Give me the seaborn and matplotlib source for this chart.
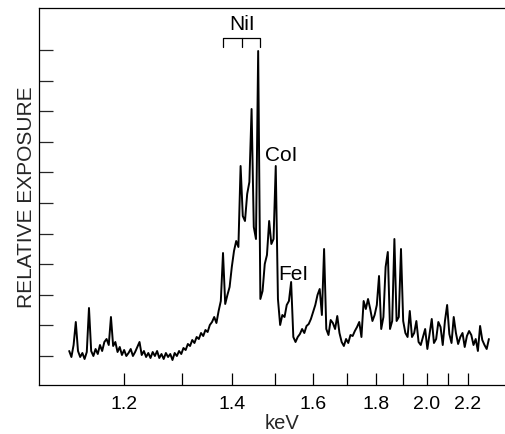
import numpy as np
import pandas as pd
import matplotlib
matplotlib.use("Agg")
import matplotlib.pyplot as plt
from matplotlib.ticker import NullLocator
import seaborn as sns

HC = 12.398  # keV * Angstrom

# densitometer trace, sampled on a uniform wavelength grid (Angstrom)
wavelength_A = [
    11.08, 11.05, 11.02, 10.99, 10.96, 10.93, 10.90, 10.87, 10.84, 10.81,
    10.78, 10.75, 10.72, 10.69, 10.66, 10.63, 10.60, 10.57, 10.54, 10.51,
    10.48, 10.45, 10.42, 10.39, 10.36, 10.33, 10.30, 10.27, 10.24, 10.21,
    10.18, 10.15, 10.12, 10.09, 10.06, 10.03, 10.00, 9.97, 9.94, 9.91,
    9.88, 9.85, 9.82, 9.79, 9.76, 9.73, 9.70, 9.67, 9.64, 9.61,
    9.58, 9.55, 9.52, 9.49, 9.46, 9.43, 9.40, 9.37, 9.34, 9.31,
    9.28, 9.25, 9.22, 9.19, 9.16, 9.13, 9.10, 9.07, 9.04, 9.01,
    8.98, 8.95, 8.92, 8.89, 8.86, 8.83, 8.80, 8.77, 8.74, 8.71,
    8.68, 8.65, 8.62, 8.59, 8.56, 8.53, 8.50, 8.47, 8.44, 8.41,
    8.38, 8.35, 8.32, 8.29, 8.26, 8.23, 8.20, 8.17, 8.14, 8.11,
    8.08, 8.05, 8.02, 7.99, 7.96, 7.93, 7.90, 7.87, 7.84, 7.81,
    7.78, 7.75, 7.72, 7.69, 7.66, 7.63, 7.60, 7.57, 7.54, 7.51,
    7.48, 7.45, 7.42, 7.39, 7.36, 7.33, 7.30, 7.27, 7.24, 7.21,
    7.18, 7.15, 7.12, 7.09, 7.06, 7.03, 7.00, 6.97, 6.94, 6.91,
    6.88, 6.85, 6.82, 6.79, 6.76, 6.73, 6.70, 6.67, 6.64, 6.61,
    6.58, 6.55, 6.52, 6.49, 6.46, 6.43, 6.40, 6.37, 6.34, 6.31,
    6.28, 6.25, 6.22, 6.19, 6.16, 6.13, 6.10, 6.07, 6.04, 6.01,
    5.98, 5.95, 5.92, 5.89, 5.86, 5.83, 5.80, 5.77, 5.74, 5.71,
    5.68, 5.65, 5.62, 5.59, 5.56, 5.53, 5.50, 5.47, 5.44, 5.41,
    5.38, 5.35,
]

relative_exposure = [
    5, -1, 11, 34, 5, -1, 3, -3, 4, 48,
    5, 0, 7, 2, 11, 5, 14, 17, 11, 39,
    10, 14, 4, 9, 1, 6, 0, 3, 7, 0,
    4, 9, 14, 1, 5, -1, 3, -2, 4, 0,
    5, -2, 2, -3, 3, -1, 2, -4, 3, 0,
    5, 2, 8, 6, 12, 10, 16, 13, 19, 17,
    23, 20, 26, 24, 31, 34, 39, 33, 45, 55,
    103, 52, 61, 69, 89, 105, 115, 109, 190, 140,
    135, 162, 174, 247, 129, 117, 305, 57, 65, 92,
    101, 135, 112, 117, 190, 57, 31, 41, 39, 51,
    55, 74, 19, 14, 19, 22, 27, 23, 30, 32,
    37, 44, 51, 61, 67, 41, 107, 27, 21, 36,
    33, 27, 40, 23, 14, 10, 17, 13, 21, 20,
    25, 29, 34, 19, 55, 47, 57, 47, 35, 41,
    51, 80, 27, 39, 89, 104, 27, 35, 117, 35,
    39, 107, 35, 23, 19, 45, 19, 23, 35, 14,
    11, 19, 27, 7, 22, 37, 13, 17, 34, 29,
    11, 35, 51, 22, 13, 39, 23, 12, 19, 23,
    9, 20, 25, 21, 11, 17, 5, 30, 16, 11,
    7, 17,
]

x_ticks_kev = [1.2, 1.3, 1.4, 1.5, 1.6, 1.7, 1.8, 1.9, 2.0, 2.1, 2.2]
x_tick_labels = ["1.2", "", "1.4", "", "1.6", "", "1.8", "", "2.0", "", "2.2"]
y_tick_values = [0, 30.6, 61.2, 91.8, 122.4, 153.0, 183.6, 214.2, 244.8, 275.4, 306.0]

ni_lines_kev = [1.381, 1.421, 1.462]
bracket_level = 318
bracket_drop = 9

labels_text = ["NiI", "CoI", "FeI"]
labels_kev = [1.4216, 1.4747, 1.5066]
labels_level = [332, 201, 82]
labels_ha = ["center", "left", "left"]

sns.set_style("ticks")
plt.rcParams["font.family"] = ["Liberation Sans Narrow", "Liberation Sans", "DejaVu Sans"]

df = pd.DataFrame({
    "energy": HC / np.array(wavelength_A),
    "exposure": relative_exposure,
})

fig = plt.figure(figsize=(5.05, 4.35), dpi=100)
ax = fig.add_axes([39 / 505, 1 - 386 / 435, 466 / 505, 377 / 435])

sns.lineplot(data=df, x="energy", y="exposure", color="black", linewidth=1.4,
             estimator=None, sort=False, ax=ax)

xlim = (1.0788, 2.4168)
ax.set_xlim(*xlim)
ax.set_xscale("function", functions=(lambda e: -1.0 / e, lambda u: -1.0 / u))
ax.set_xlim(*xlim)
ax.set_ylim(-29, 348)

ax.set_xticks(x_ticks_kev)
ax.set_xticklabels(x_tick_labels)
ax.xaxis.set_minor_locator(NullLocator())
ax.set_yticks(y_tick_values)
ax.set_yticklabels([])
ax.yaxis.set_minor_locator(NullLocator())

ax.tick_params(axis="x", direction="in", length=9, width=0.9, pad=7,
               labelsize=14, colors="black")
ax.tick_params(axis="y", direction="in", length=10, width=0.9, labelleft=False)

for side in ["left", "bottom", "top"]:
    ax.spines[side].set_visible(True)
    ax.spines[side].set_linewidth(0.9)
    ax.spines[side].set_color("black")
ax.spines["right"].set_visible(False)

ax.set_xlabel("keV", fontsize=14.5)
ax.xaxis.set_label_coords(0.5215, -0.075)
ax.set_ylabel("RELATIVE EXPOSURE", fontsize=15)
ax.yaxis.set_label_coords(-0.006, 0.5)

# NiI bracket
ax.plot([ni_lines_kev[0], ni_lines_kev[0], ni_lines_kev[2], ni_lines_kev[2]],
        [bracket_level - bracket_drop, bracket_level, bracket_level,
         bracket_level - bracket_drop], color="black", linewidth=0.9)
ax.plot([ni_lines_kev[1], ni_lines_kev[1]],
        [bracket_level, bracket_level - bracket_drop], color="black", linewidth=0.9)

for t, e, lv, ha in zip(labels_text, labels_kev, labels_level, labels_ha):
    ax.text(e, lv, t, ha=ha, va="center", fontsize=15, color="black")

fig.savefig("out.png", dpi=100)
